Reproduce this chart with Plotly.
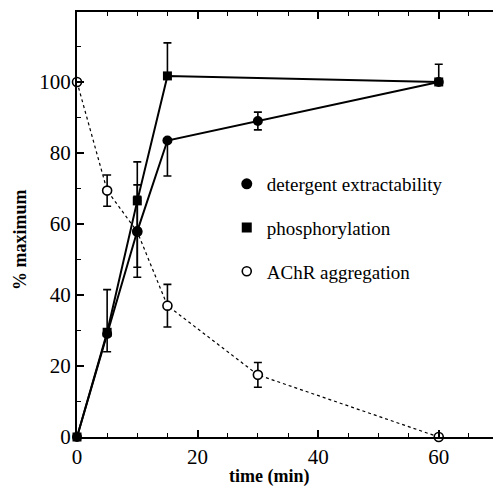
import plotly.graph_objects as go

# Data
t_det = [0, 5, 10, 15, 30, 60]
det = [0, 29, 58, 83.5, 89, 100]
det_plus = [0, 0, 13, 0, 2.5, 0]
det_minus = [0, 5, 13, 10, 2.5, 0]

t_pho = [0, 5, 10, 15, 60]
pho = [0, 29.5, 66.5, 101.7, 100]
pho_plus = [0, 12, 11, 9.3, 5]
pho_minus = [0, 0, 0, 0, 0]

t_ach = [0, 5, 10, 15, 30, 60]
ach = [100, 69.4, 57.8, 37, 17.5, 0]
ach_err = [0, 4.4, 10, 6, 3.5, 0]

legend_names = ["detergent extractability", "phosphorylation", "AChR aggregation"]

FONT = "Liberation Serif"
fig = go.Figure()

def eb(plus, minus):
    return dict(type="data", symmetric=False, array=plus, arrayminus=minus,
                color="black", thickness=1.6, width=4)

fig.add_trace(go.Scatter(x=t_ach, y=ach, mode="lines+markers", showlegend=False,
                         line=dict(color="black", width=1.2, dash="dot"),
                         marker=dict(symbol="circle", size=9, color="white",
                                     line=dict(color="black", width=1.6)),
                         error_y=eb(ach_err, ach_err), cliponaxis=False))
fig.add_trace(go.Scatter(x=t_det, y=det, mode="lines+markers", showlegend=False,
                         line=dict(color="black", width=2),
                         marker=dict(symbol="circle", size=10, color="black"),
                         error_y=eb(det_plus, det_minus), cliponaxis=False))
fig.add_trace(go.Scatter(x=t_pho, y=pho, mode="lines+markers", showlegend=False,
                         line=dict(color="black", width=2),
                         marker=dict(symbol="square", size=9, color="black"),
                         error_y=eb(pho_plus, pho_minus), cliponaxis=False))

# Legend-only entries
leg_styles = [
    dict(symbol="circle", size=11, color="black"),
    dict(symbol="square", size=10, color="black"),
    dict(symbol="circle", size=9, color="white", line=dict(color="black", width=1.6)),
]
for i, (name, st) in enumerate(zip(legend_names, leg_styles)):
    fig.add_trace(go.Scatter(x=[None], y=[None], mode="markers", name=name,
                             marker=st, legendgroup=f"g{i}", showlegend=True))

fig.update_layout(
    width=493, height=487,
    margin=dict(l=77, r=0, t=12, b=50),
    plot_bgcolor="white", paper_bgcolor="white",
    font=dict(family=FONT, size=19, color="black"),
    showlegend=True,
    legend=dict(x=0.36, y=0.64, xanchor="left", yanchor="top",
                bgcolor="rgba(0,0,0,0)", tracegroupgap=16,
                font=dict(family=FONT, size=19, color="black"),
                itemwidth=30),
    xaxis=dict(range=[0, 69], showline=True, linecolor="black", linewidth=2,
               mirror="ticks", ticks="inside", ticklen=7, tickwidth=1.6,
               tickcolor="black", tickvals=[0, 20, 40, 60],
               ticktext=["0", "20", "40", "60"],
               minor=dict(tickvals=[5, 10, 15, 25, 30, 35, 45, 50, 55, 65],
                          ticks="inside", ticklen=4, tickwidth=1.4, tickcolor="black"),
               showgrid=False, zeroline=False,
               tickfont=dict(family=FONT, size=21, color="black")),
    yaxis=dict(range=[0, 119.7], showline=True, linecolor="black", linewidth=2,
               mirror=False, ticks="inside", ticklen=7, tickwidth=1.6,
               tickcolor="black", tickvals=[0, 20, 40, 60, 80, 100],
               ticktext=["0", "20", "40", "60", "80", "100"],
               minor=dict(tickvals=[10, 30, 50, 70, 90, 110],
                          ticks="inside", ticklen=4, tickwidth=1.4, tickcolor="black"),
               showgrid=False, zeroline=False,
               tickfont=dict(family=FONT, size=21, color="black")),
    annotations=[
        dict(text="<b>time (min)</b>", xref="paper", yref="paper",
             x=(269 - 77) / 416, y=-(476 - 437) / 425, xanchor="center", yanchor="middle",
             showarrow=False, font=dict(family=FONT, size=18, color="black")),
        dict(text="<b>% maximum</b>", xref="paper", yref="paper",
             x=-(77 - 20) / 416, y=(437 - 239) / 425, xanchor="center", yanchor="middle",
             textangle=-90, showarrow=False, font=dict(family=FONT, size=18, color="black")),
    ],
)

fig.write_html("out.html")
